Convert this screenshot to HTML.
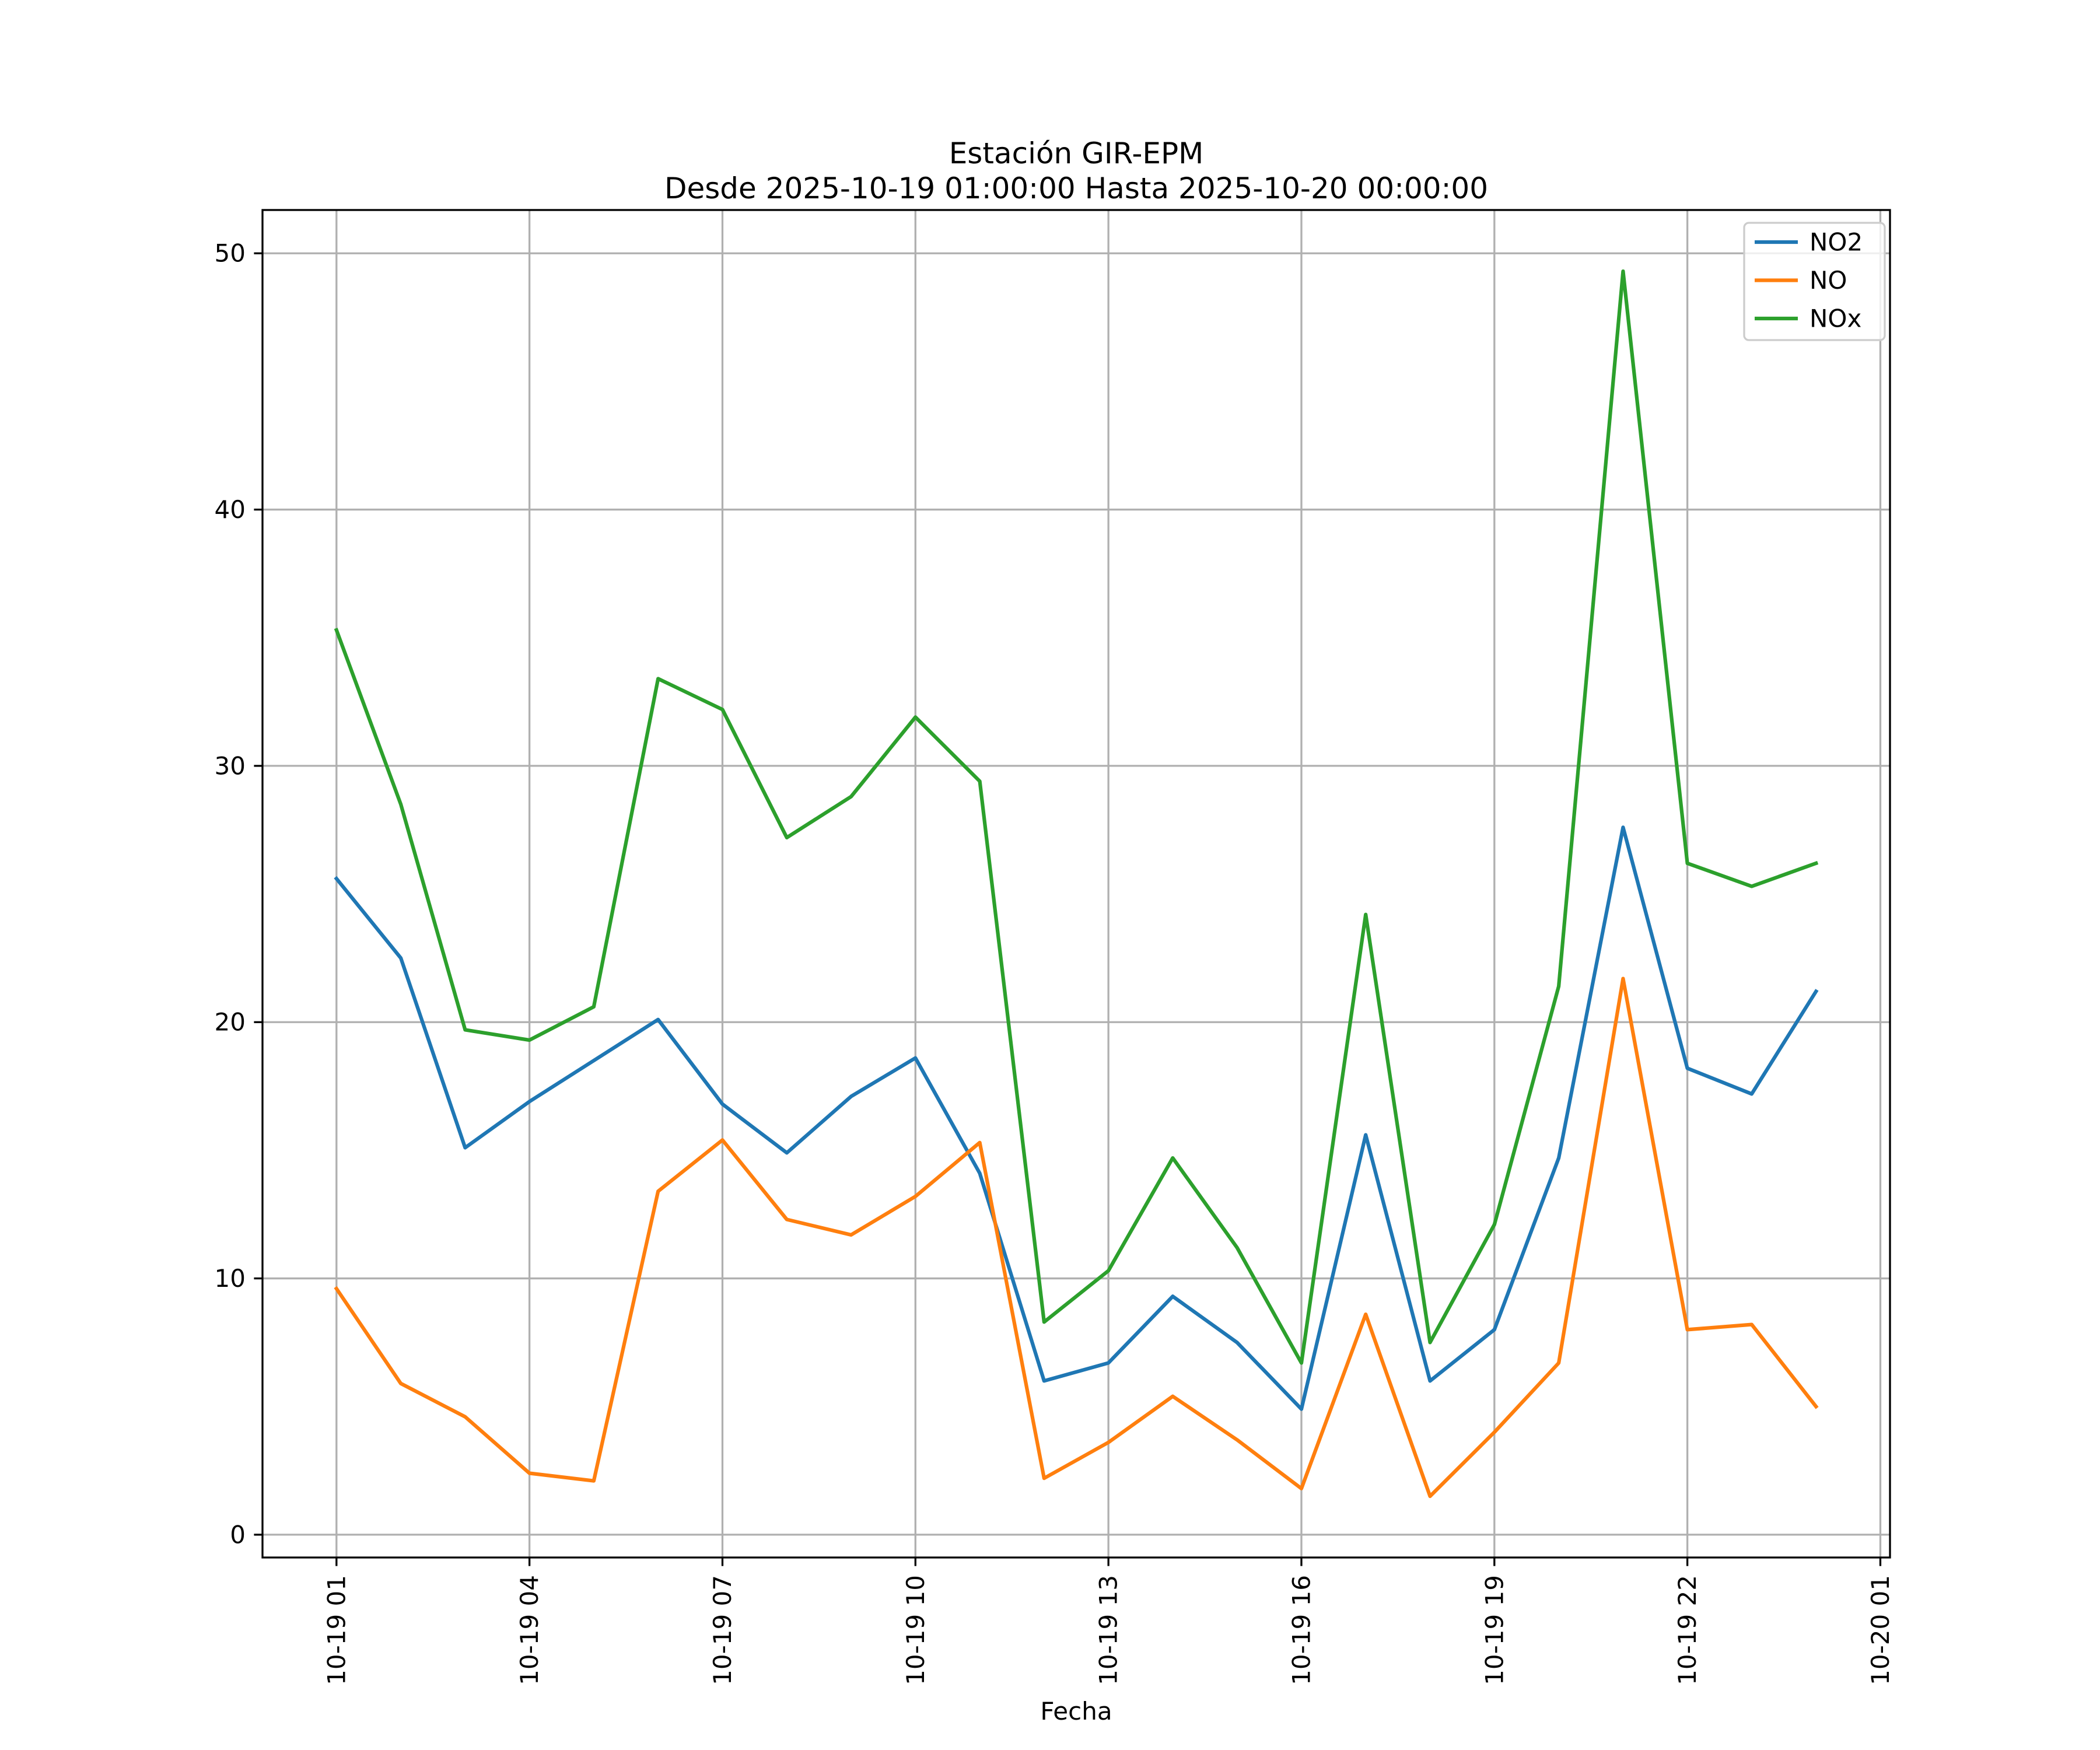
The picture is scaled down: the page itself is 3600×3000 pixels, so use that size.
<!DOCTYPE html>
<html><head><meta charset="utf-8"><style>
html,body{margin:0;padding:0;background:#fff}
svg{display:block;font-family:"DejaVu Sans","Liberation Sans",sans-serif}
</style></head><body>
<svg id="chart" width="3600" height="3000" viewBox="0 0 3600 3000" xmlns="http://www.w3.org/2000/svg">
<rect width="3600" height="3000" fill="#fff"/>
<text x="1845" y="280" font-size="50" text-anchor="middle">Estación GIR-EPM</text>
<text x="1845" y="340" font-size="50" text-anchor="middle">Desde 2025-10-19 01:00:00 Hasta 2025-10-20 00:00:00</text>
<g id="grid"></g>
<g id="series"></g>
<g id="axes"></g>
<text x="1845" y="2948" font-size="42" text-anchor="middle">Fecha</text>
<g id="legend"></g>
</svg>
<script>
const hours = [1,2,3,4,5,6,7,8,9,10,11,12,13,14,15,16,17,18,19,20,21,22,23,24];
const no2 = [25.6,22.5,15.1,16.9,18.5,20.1,16.8,14.9,17.1,18.6,14.1,6.0,6.7,9.3,7.5,4.9,15.6,6.0,8.0,14.7,27.6,18.2,17.2,21.2];
const no = [9.6,5.9,4.6,2.4,2.1,13.4,15.4,12.3,11.7,13.2,15.3,2.2,3.6,5.4,3.7,1.8,8.6,1.5,4.0,6.7,21.7,8.0,8.2,5.0];
const nox = [35.3,28.5,19.7,19.3,20.6,33.4,32.2,27.2,28.8,31.9,29.4,8.3,10.3,14.7,11.2,6.7,24.2,7.5,12.1,21.4,49.3,26.2,25.3,26.2];
const xTickHours = [1,4,7,10,13,16,19,22,25];
const xTickLabels = ["10-19 01","10-19 04","10-19 07","10-19 10","10-19 13","10-19 16","10-19 19","10-19 22","10-20 01"];
const yTicks = [0,10,20,30,40,50];
const seriesNames = ["NO2","NO","NOx"];
const seriesColors = ["#1f77b4","#ff7f0e","#2ca02c"];

const L=450,R=3240,T=360,B=2670;
const allV = no2.concat(no, nox);
const vmin=Math.min(...allV), vmax=Math.max(...allV), vr=vmax-vmin;
const ymin=vmin-0.05*vr, ymax=vmax+0.05*vr;
const hmin=hours[0], hmax=hours[hours.length-1], hr=hmax-hmin;
const xmin=hmin-0.05*hr, xmax=hmax+0.05*hr;
const X=h=>L+(h-xmin)/(xmax-xmin)*(R-L);
const Y=v=>B-(v-ymin)/(ymax-ymin)*(B-T);
const NS="http://www.w3.org/2000/svg";
function mk(tag,attrs,parent){const e=document.createElementNS(NS,tag);for(const k in attrs)e.setAttribute(k,attrs[k]);parent.appendChild(e);return e;}
const grid=document.getElementById('grid'),axes=document.getElementById('axes'),ser=document.getElementById('series'),leg=document.getElementById('legend');

xTickHours.forEach((h,i)=>{
  const x=X(h);
  const g=mk('line',{x1:x,x2:x,y1:T,y2:B,stroke:'#b0b0b0','stroke-width':3.3},grid);
  
  
  const t=mk('line',{x1:x,x2:x,y1:B,y2:B+14.6,stroke:'#000','stroke-width':3.3},axes);
  
  
  const lb=mk('text',{x:0,y:0,'font-size':42,'text-anchor':'end','dominant-baseline':'central',transform:`translate(${x},${B+30}) rotate(-90)`},axes);
  lb.textContent=xTickLabels[i];
  
  
});
yTicks.forEach(v=>{
  const y=Y(v);
  const g=mk('line',{x1:L,x2:R,y1:y,y2:y,stroke:'#b0b0b0','stroke-width':3.3},grid);
  
  
  const t=mk('line',{x1:L-14.6,x2:L,y1:y,y2:y,stroke:'#000','stroke-width':3.3},axes);
  
  
  const lb=mk('text',{x:L-29,y:y,'font-size':42,'text-anchor':'end','dominant-baseline':'central'},axes);
  lb.textContent=String(v);
  
  
});
const frame=mk('rect',{x:L,y:T,width:R-L,height:B-T,fill:'none',stroke:'#000','stroke-width':3.3},axes);



[no2,no,nox].forEach((arr,si)=>{
  const pts=arr.map((v,i)=>X(hours[i]).toFixed(1)+','+Y(v).toFixed(1)).join(' ');
  const p=mk('polyline',{points:pts,fill:'none',stroke:seriesColors[si],'stroke-width':6.25,'stroke-linejoin':'round','stroke-linecap':'square'},ser);
  
  
});

const box=mk('rect',{x:2990,y:382,width:241,height:201,rx:8,fill:'#fff','fill-opacity':0.8,stroke:'#cccccc','stroke-width':3.3},leg);


seriesNames.forEach((n,i)=>{
  const y=415+i*65.5;
  const l=mk('line',{x1:3008,x2:3082,y1:y,y2:y,stroke:seriesColors[i],'stroke-width':6.25},leg);
  
  
  const t=mk('text',{x:3102,y:y,'font-size':42,'dominant-baseline':'central'},leg);
  t.textContent=n;
  
  
});
</script>
</body></html>
